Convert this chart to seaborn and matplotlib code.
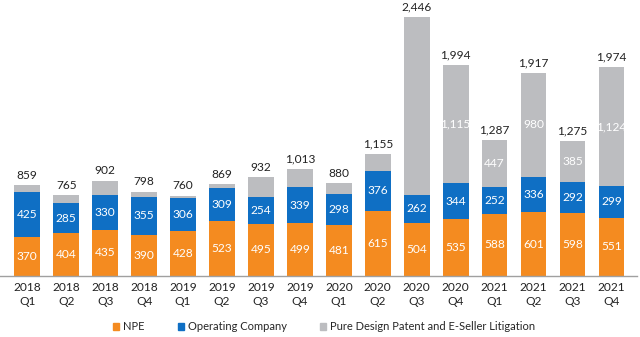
import matplotlib
matplotlib.use("Agg")
import matplotlib.pyplot as plt
import seaborn as sns
import numpy as np
from matplotlib.patches import Patch

quarters = ["2018\nQ1", "2018\nQ2", "2018\nQ3", "2018\nQ4",
            "2019\nQ1", "2019\nQ2", "2019\nQ3", "2019\nQ4",
            "2020\nQ1", "2020\nQ2", "2020\nQ3", "2020\nQ4",
            "2021\nQ1", "2021\nQ2", "2021\nQ3", "2021\nQ4"]
npe = [370, 404, 435, 390, 428, 523, 495, 499, 481, 615, 504, 535, 588, 601, 598, 551]
operating = [425, 285, 330, 355, 306, 309, 254, 339, 298, 376, 262, 344, 252, 336, 292, 299]
totals = [859, 765, 902, 798, 760, 869, 932, 1013, 880, 1155, 2446, 1994, 1287, 1917, 1275, 1974]
design = [t - a - b for t, a, b in zip(totals, npe, operating)]
design_labeled = [False] * 11 + [True] * 5

c_npe = "#F48B20"
c_op = "#0F6FC4"
c_des = "#BCBDC0"

sns.set_style("white")
plt.rcParams["font.family"] = ["Lato", "DejaVu Sans"]

fig = plt.figure(figsize=(6.4, 3.37), dpi=100)
ax = fig.add_axes([0.0, 0.181, 0.995, 0.798])

x = np.arange(len(quarters))
npe_a = np.array(npe)
op_a = np.array(operating)

sns.barplot(x=quarters, y=npe, color=c_npe, width=0.66, ax=ax, saturation=1, linewidth=0)
sns.barplot(x=quarters, y=operating, bottom=npe_a, color=c_op, width=0.66, ax=ax, saturation=1, linewidth=0)
sns.barplot(x=quarters, y=design, bottom=npe_a + op_a, color=c_des, width=0.66, ax=ax, saturation=1, linewidth=0)

fs = 8.6
for i in x:
    ax.text(i, npe[i] / 2, f"{npe[i]:,}", ha="center", va="center", color="white", fontsize=fs)
    ax.text(i, npe[i] + operating[i] / 2, f"{operating[i]:,}", ha="center", va="center", color="white", fontsize=fs)
    if design_labeled[i]:
        ax.text(i, npe[i] + operating[i] + design[i] / 2, f"{design[i]:,}", ha="center", va="center", color="white", fontsize=fs)
    ax.text(i, totals[i] + 40, f"{totals[i]:,}", ha="center", va="bottom", color="#222222", fontsize=fs)

ax.set_xlim(-0.7, len(quarters) - 0.35)
ax.set_ylim(0, 2540)
ax.set_yticks([])
ax.set_ylabel("")
for s in ["top", "right", "left"]:
    ax.spines[s].set_visible(False)
ax.spines["bottom"].set_color("#A0A0A0")
ax.spines["bottom"].set_linewidth(1.0)
ax.tick_params(axis="x", length=0, labelsize=fs, colors="#222222", pad=4)
for lab in ax.get_xticklabels():
    lab.set_linespacing(1.35)

handles = [Patch(color=c_npe, label="NPE"),
           Patch(color=c_op, label="Operating Company"),
           Patch(color=c_des, label="Pure Design Patent and E-Seller Litigation")]
fig.legend(handles=handles, loc="center", bbox_to_anchor=(0.506, 0.03), ncol=3, frameon=False,
           fontsize=8, handlelength=0.55, handleheight=0.55, handletextpad=0.35, columnspacing=3.0)

fig.savefig("out.png", dpi=100)
